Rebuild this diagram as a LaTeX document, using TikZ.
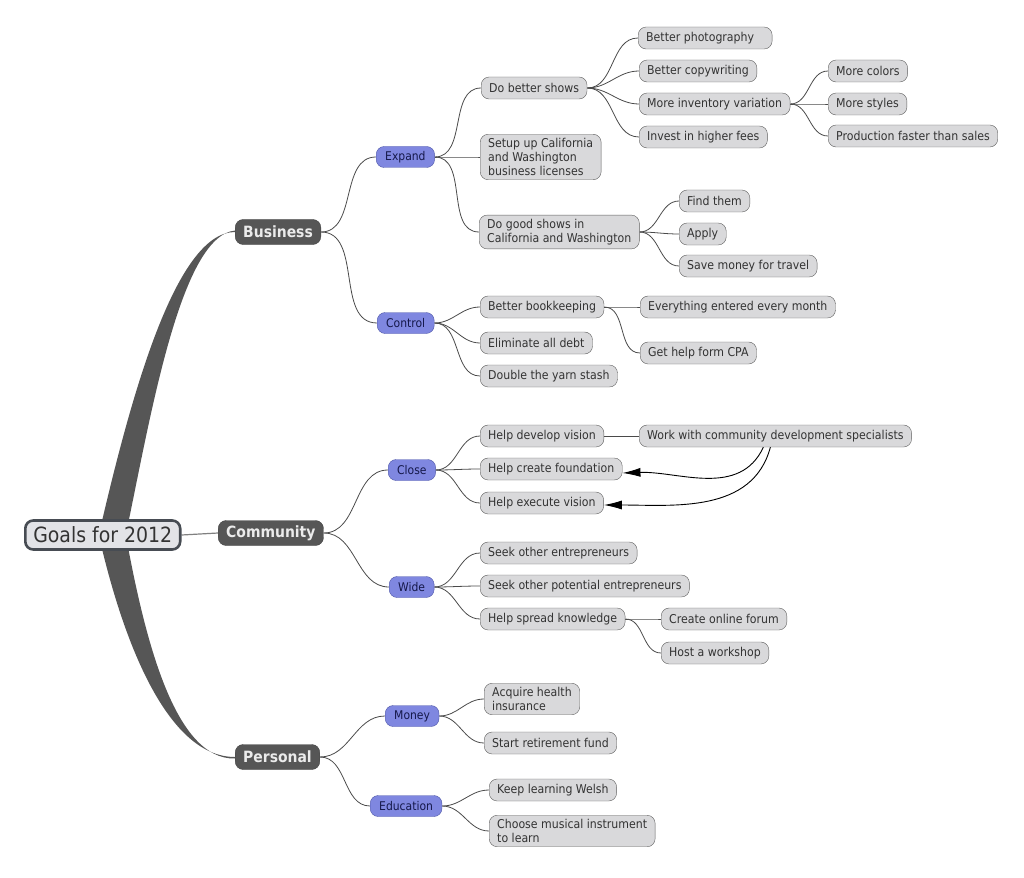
\documentclass[tikz,border=0pt]{standalone}
\usepackage{fontspec}
\setmainfont{DejaVu Sans Condensed}
\usetikzlibrary{arrows.meta,backgrounds}

\definecolor{trunk}{HTML}{565656}
\definecolor{linkgray}{HTML}{4A4A4A}
\definecolor{leaffill}{HTML}{D9D9DB}
\definecolor{leafline}{HTML}{5E5E5E}
\definecolor{leaftext}{HTML}{333333}
\definecolor{bluefill}{HTML}{7F87E0}
\definecolor{blueline}{HTML}{4F57A8}
\definecolor{bluetext}{HTML}{15184A}
\definecolor{rootfill}{HTML}{E2E3E7}
\definecolor{rootline}{HTML}{474C53}

\tikzset{
  root/.style={draw=rootline, line width=2.6pt, fill=rootfill, rounded corners=8pt, text=leaftext,
    font=\fontsize{21}{24}\selectfont, inner xsep=8pt, minimum height=29pt, anchor=west},
  topic/.style={draw=trunk!80!black, fill=trunk, rounded corners=8pt, text=white!92!black,
    font=\fontsize{15.5}{18}\selectfont\bfseries, inner xsep=8pt, minimum height=25pt, anchor=west},
  sub/.style={draw=blueline, fill=bluefill, rounded corners=8pt, text=bluetext,
    font=\fontsize{12}{14}\selectfont, inner xsep=9pt, minimum height=21pt, anchor=west},
  leaf/.style={draw=leafline, fill=leaffill, rounded corners=8pt, text=leaftext,
    font=\fontsize{12.2}{14}\selectfont, align=left, inner xsep=8pt, inner ysep=4pt,
    minimum height=22pt, anchor=west},
  link/.style={draw=linkgray, line width=0.8pt},
}

\begin{document}
\begin{tikzpicture}[x=1pt,y=-1pt,>={Latex[length=18pt,width=9pt]}]
		\useasboundingbox (0,0) rectangle (1024,877);
		% Centro
		\node[root] (goals) at (24,535) {Goals for 2012};
		% Rami principali
		\node[topic] (business) at (235,232) {Business};
		\node[topic] (community) at (218,533) {Community};
		\node[topic] (personal) at (235,757) {Personal};
		% Secondo livello
		\node[sub] (expand) at (376,157) {Expand};
		\node[sub] (control) at (377,323) {Control};
		\node[sub] (close) at (388,470) {Close};
		\node[sub] (wide) at (389,587) {Wide};
		\node[sub] (money) at (385,716) {Money};
		\node[sub] (education) at (370,806) {Education};
		% Expand
		\node[leaf] (betshows) at (481,88) {Do better shows};
		\node[leaf] (licenses) at (480,157) {Setup up California\\and Washington\\business licenses};
		\node[leaf] (goodshows) at (479,232) {Do good shows in\\California and Washington};
		\node[leaf] (photo) at (638,38) {Better photography\hspace{10pt}};
		\node[leaf] (copy) at (639,71) {Better copywriting};
		\node[leaf] (inventory) at (639,104) {More inventory variation};
		\node[leaf] (fees) at (639,137) {Invest in higher fees};
		\node[leaf] (colors) at (828,71) {More colors};
		\node[leaf] (styles) at (828,104) {More styles};
		\node[leaf] (production) at (828,136) {Production faster than sales};
		\node[leaf] (findthem) at (679,201) {Find them};
		\node[leaf] (apply) at (679,234) {Apply};
		\node[leaf] (savemoney) at (679,266) {Save money for travel};
		% Control
		\node[leaf] (bookkeep) at (480,307) {Better bookkeeping};
		\node[leaf] (debt) at (480,343) {Eliminate all debt};
		\node[leaf] (yarn) at (480,376) {Double the yarn stash};
		\node[leaf] (everything) at (640,307) {Everything entered every month};
		\node[leaf] (cpa) at (640,353) {Get help form CPA};
		% Close
		\node[leaf] (devvision) at (480,436) {Help develop vision};
		\node[leaf] (foundation) at (480,469) {Help create foundation};
		\node[leaf] (execvision) at (480,503) {Help execute vision};
		\node[leaf] (specialists) at (639,436) {Work with community development specialists};
		% Wide
		\node[leaf] (seekent) at (480,553) {Seek other entrepreneurs};
		\node[leaf] (seekpot) at (480,586) {Seek other potential entrepreneurs};
		\node[leaf] (spread) at (480,619) {Help spread knowledge};
		\node[leaf] (forum) at (661,619) {Create online forum};
		\node[leaf] (workshop) at (661,653) {Host a workshop};
		% Money, Education
		\node[leaf] (health) at (484,699) {Acquire health\\insurance};
		\node[leaf] (retire) at (484,743) {Start retirement fund};
		\node[leaf] (welsh) at (489,790) {Keep learning Welsh};
		\node[leaf] (instrument) at (489,831) {Choose musical instrument\\to learn};

		\begin{scope}[on background layer]
		% Tronchi
		\fill[trunk] ([xshift=-4pt]goals.center) .. controls (130,400) and (175,232) .. (business.west)
			-- ([yshift=1.5pt]business.west) .. controls (180,236) and (150,420) .. ([xshift=23pt]goals.center) -- cycle;
		\fill[trunk] ([xshift=-4pt]goals.center) .. controls (125,650) and (170,757) .. (personal.west)
			-- ([yshift=-1.5pt]personal.west) .. controls (175,760) and (145,640) .. ([xshift=23pt]goals.center) -- cycle;
		\draw[link, line width=1.2pt, draw=gray] (goals.east) -- (community.west);
		% Business
		\draw[link] (business.east) to[out=0,in=180] (expand.west);
		\draw[link] (business.east) to[out=0,in=180] (control.west);
		\draw[link] (expand.east) to[out=0,in=180] (betshows.west);
		\draw[link] (expand.east) to[out=0,in=180] (licenses.west);
		\draw[link] (expand.east) to[out=0,in=180] (goodshows.west);
		\draw[link] (betshows.east) to[out=0,in=180] (photo.west);
		\draw[link] (betshows.east) to[out=0,in=180] (copy.west);
		\draw[link] (betshows.east) to[out=0,in=180] (inventory.west);
		\draw[link] (betshows.east) to[out=0,in=180] (fees.west);
		\draw[link] (inventory.east) to[out=0,in=180] (colors.west);
		\draw[link] (inventory.east) to[out=0,in=180] (styles.west);
		\draw[link] (inventory.east) to[out=0,in=180] (production.west);
		\draw[link] (goodshows.east) to[out=0,in=180] (findthem.west);
		\draw[link] (goodshows.east) to[out=0,in=180] (apply.west);
		\draw[link] (goodshows.east) to[out=0,in=180] (savemoney.west);
		\draw[link] (control.east) to[out=0,in=180] (bookkeep.west);
		\draw[link] (control.east) to[out=0,in=180] (debt.west);
		\draw[link] (control.east) to[out=0,in=180] (yarn.west);
		\draw[link] (bookkeep.east) to[out=0,in=180] (everything.west);
		\draw[link] (bookkeep.east) to[out=0,in=180] (cpa.west);
		% Community
		\draw[link] (community.east) to[out=0,in=180] (close.west);
		\draw[link] (community.east) to[out=0,in=180] (wide.west);
		\draw[link] (close.east) to[out=0,in=180] (devvision.west);
		\draw[link] (close.east) to[out=0,in=180] (foundation.west);
		\draw[link] (close.east) to[out=0,in=180] (execvision.west);
		\draw[link] (devvision.east) -- (specialists.west);
		\draw[link] (wide.east) to[out=0,in=180] (seekent.west);
		\draw[link] (wide.east) to[out=0,in=180] (seekpot.west);
		\draw[link] (wide.east) to[out=0,in=180] (spread.west);
		\draw[link] (spread.east) to[out=0,in=180] (forum.west);
		\draw[link] (spread.east) to[out=0,in=180] (workshop.west);
		% Personal
		\draw[link] (personal.east) to[out=0,in=180] (money.west);
		\draw[link] (personal.east) to[out=0,in=180] (education.west);
		\draw[link] (money.east) to[out=0,in=180] (health.west);
		\draw[link] (money.east) to[out=0,in=180] (retire.west);
		\draw[link] (education.east) to[out=0,in=180] (welsh.west);
		\draw[link] (education.east) to[out=0,in=180] (instrument.west);
		\end{scope}
		% Frecce
		\draw[->, line width=0.9pt] ([xshift=-12pt]specialists.south) to[out=-115,in=2] ([yshift=-4pt]foundation.east);
		\draw[->, line width=0.9pt] ([xshift=-5pt]specialists.south) to[out=-105,in=0] ([yshift=-2pt]execvision.east);
	\end{tikzpicture}
\end{document}
